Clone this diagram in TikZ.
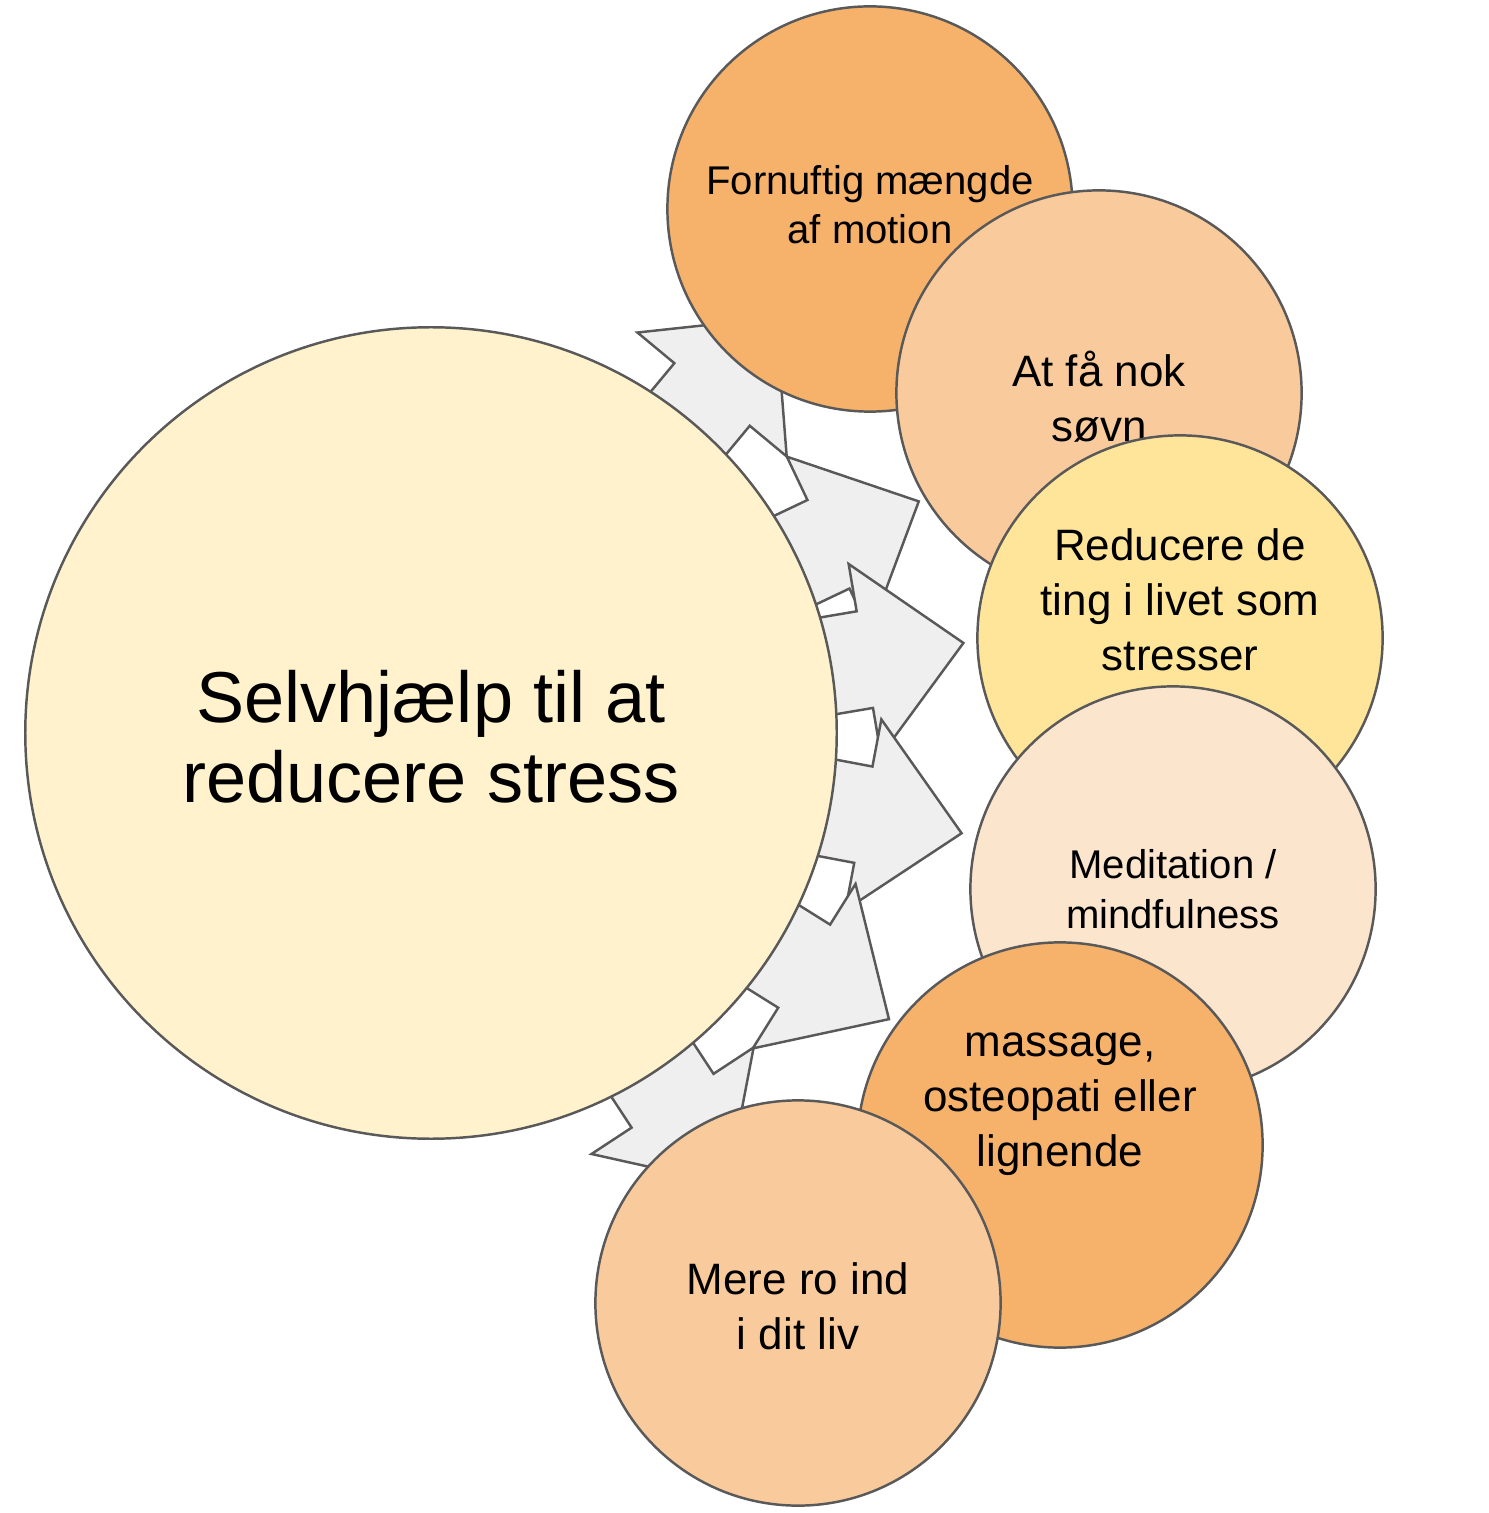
\documentclass[tikz,border=0pt]{standalone}
\usepackage{fontspec}
\setmainfont{Liberation Sans}
\usetikzlibrary{calc,positioning}
\definecolor{mainfill}{HTML}{FFF2CC}
\definecolor{darkorange}{HTML}{F6B26B}
\definecolor{lightorange}{HTML}{F9CB9C}
\definecolor{paleyellow}{HTML}{FFE599}
\definecolor{palepeach}{HTML}{FCE5CD}
\definecolor{edgegray}{HTML}{595959}
\definecolor{arrowgray}{HTML}{EFEFEF}
\begin{document}
\begin{tikzpicture}[x=0.01cm,y=-0.01cm]
        \tikzstyle{bnode} = [draw=edgegray, line width=0.7pt, circle, inner sep=0pt, minimum size=8.11cm]
        \tikzstyle{snode} = [draw=edgegray, line width=0.7pt, circle, inner sep=0pt, minimum size=4.05cm]
        \tikzstyle{stext} = [align=center, font=\fontsize{12.5}{15.6}\selectfont]
        \tikzstyle{harrow} = [draw=edgegray, line width=0.7pt, fill=arrowgray, line join=miter]
        \useasboundingbox (0,0) rectangle (1489,1513);

        \coordinate (mc) at (431,733);
        % block arrows, pointing out of the big circle
        \foreach \ang in {-50.3,-25.4,-9.6,10.7,32,56.7} {
          \draw[harrow] ($(mc)+(\ang:300)+(\ang+90:49)$) -- ($(mc)+(\ang:440)+(\ang+90:49)$)
            -- ($(mc)+(\ang:440)+(\ang+90:97)$) -- ($(mc)+(\ang:540)$)
            -- ($(mc)+(\ang:440)+(\ang-90:97)$) -- ($(mc)+(\ang:440)+(\ang-90:49)$)
            -- ($(mc)+(\ang:300)+(\ang-90:49)$) -- cycle;
        }

        \node[bnode, fill=mainfill] (main) at (mc) {};
        \node[align=center, font=\fontsize{20.5}{22.8}\selectfont] (maintxt) at (431,737) {Selvhjælp til at\\reducere stress};

        \node[snode, fill=darkorange] (motion) at (870,209) {};
        \node[stext, font=\fontsize{11.4}{13.9}\selectfont] (motiontxt) at (870,205) {Fornuftig mængde\\af motion};
        \node[snode, fill=lightorange] (sovn) at (1099,393) {};
        \node[stext] (sovntxt) at (1099,397) {At få nok\\søvn};
        \node[snode, fill=paleyellow] (stres) at (1180,638) {};
        \node[stext] (strestxt) at (1180,600) {Reducere de\\ting i livet som\\stresser};
        \node[snode, fill=palepeach] (medit) at (1173,889) {};
        \node[stext, font=\fontsize{11.4}{14.2}\selectfont] (medittxt) at (1173,889) {Meditation /\\mindfulness};
        \node[snode, fill=darkorange] (massg) at (1060,1145) {};
        \node[stext] (massgtxt) at (1060,1104) {massage,\\osteopati eller\\lignende};
        \node[snode, fill=lightorange] (ro) at (798,1303) {};
        \node[stext] (rotxt) at (798,1306) {Mere ro ind\\i dit liv};
      \end{tikzpicture}
\end{document}
